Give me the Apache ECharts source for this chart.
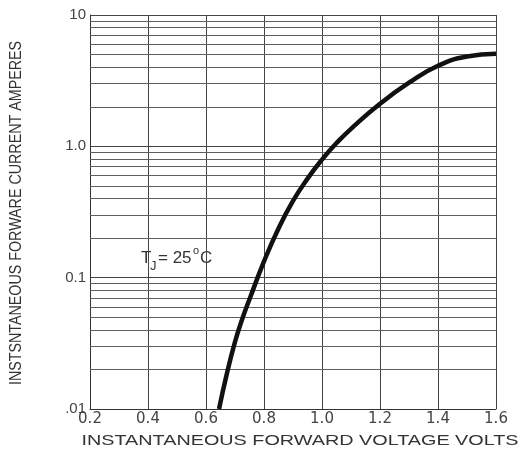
<!DOCTYPE html>
<html>
<head>
<meta charset="utf-8">
<script src="https://cdn.jsdelivr.net/npm/echarts@6/dist/echarts.min.js"></script>
<style>
  html, body { margin: 0; padding: 0; background: #fff; }
  #box { width: 527px; height: 455px; }
</style>
</head>
<body>
<div id="box"></div>
<script>
// forward characteristic
var voltage = [0.645, 0.67, 0.7, 0.725, 0.75, 0.8, 0.85, 0.9, 0.95, 1.0, 1.05, 1.1, 1.2, 1.3, 1.4, 1.5, 1.6];
var current = [0.01, 0.0178, 0.0324, 0.0484, 0.0684, 0.133, 0.237, 0.384, 0.568, 0.793, 1.06, 1.36, 2.11, 3.05, 4.11, 4.83, 5.06];

var yLabels = { '10': '10', '1': '1.0', '0.1': '0.1', '0.01': '.01' };
var decades = [0.01, 0.1, 1];
var minorSteps = [2, 3, 4, 5, 6, 7, 8, 9];

var curveData = voltage.map(function (v, i) { return [v, current[i]]; });

// the 2..9 lines inside each decade
var minorLines = [];
decades.forEach(function (d) {
    minorSteps.forEach(function (m) {
        minorLines.push({ yAxis: +(d * m).toPrecision(3) });
    });
});

var myChart = echarts.init(document.getElementById('box'));
var option = {
    animation: false,
    grid: { left: 90, right: 31, top: 15, bottom: 46 },
    xAxis: {
        type: 'value',
        min: 0.2,
        max: 1.6,
        interval: 0.2,
        axisLine: { lineStyle: { color: '#333', width: 1 } },
        axisTick: { show: false },
        axisLabel: {
            margin: 3,
            color: '#444',
            fontFamily: 'DejaVu Sans',
            fontSize: 15,
            formatter: function (v) { return v.toFixed(1); }
        },
        splitLine: { show: true, lineStyle: { color: '#444', width: 1 } }
    },
    yAxis: {
        type: 'log',
        logBase: 10,
        min: 0.01,
        max: 10,
        axisLine: { show: true, lineStyle: { color: '#333', width: 1 } },
        axisTick: { show: false },
        axisLabel: {
            margin: 4,
            color: '#444',
            fontFamily: 'Liberation Sans',
            fontSize: 15,
            formatter: function (v) { return yLabels[String(+v.toPrecision(3))] || ''; }
        },
        splitLine: { show: true, lineStyle: { color: '#444', width: 1 } }
    },
    graphic: [
        {
            type: 'text', x: 16, y: 213, rotation: Math.PI / 2, scaleX: 0.84,
            style: { text: 'INSTSNTANEOUS FORWARE CURRENT AMPERES', font: '17px "Liberation Sans"', fill: '#333', textAlign: 'center', textVerticalAlign: 'middle' }
        },
        {
            type: 'text', x: 300, y: 441, scaleX: 1.32,
            style: { text: 'INSTANTANEOUS FORWARD VOLTAGE VOLTS', font: '15px "Liberation Sans"', fill: '#333', textAlign: 'center', textVerticalAlign: 'middle' }
        },
        // T_J = 25°C note
        {
            type: 'text', x: 141, y: 258,
            style: { text: 'T', font: '17px "Liberation Sans"', fill: '#333', textVerticalAlign: 'middle' }
        },
        {
            type: 'text', x: 150, y: 266,
            style: { text: 'J', font: '13px "Liberation Sans"', fill: '#333', textVerticalAlign: 'middle' }
        },
        {
            type: 'text', x: 158, y: 258,
            style: { text: '= 25', font: '17px "Liberation Sans"', fill: '#333', textVerticalAlign: 'middle' }
        },
        {
            type: 'text', x: 193, y: 251,
            style: { text: 'o', font: '11px "Liberation Sans"', fill: '#333', textVerticalAlign: 'middle' }
        },
        {
            type: 'text', x: 200, y: 258,
            style: { text: 'C', font: '17px "Liberation Sans"', fill: '#333', textVerticalAlign: 'middle' }
        }
    ],
    series: [
        {
            name: 'minor grid',
            type: 'line',
            data: [],
            silent: true,
            markLine: {
                silent: true,
                symbol: 'none',
                label: { show: false },
                lineStyle: { color: '#5e5e5e', width: 1, type: 'solid' },
                data: minorLines
            }
        },
        {
            name: 'IF',
            type: 'line',
            data: curveData,
            smooth: 0.5,
            showSymbol: false,
            symbol: 'none',
            lineStyle: { color: '#111', width: 4.5 },
            z: 5
        }
    ]
};

option && myChart.setOption(option);
</script>
</body>
</html>
